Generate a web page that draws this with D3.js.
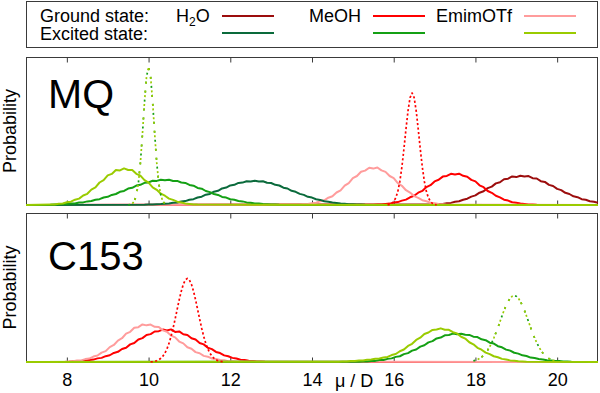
<!DOCTYPE html>
<html>
<head>
<meta charset="utf-8">
<script src="https://cdn.jsdelivr.net/npm/d3@7"></script>
<style>
    body { margin: 0; background: #fff; }
    svg { display: block; font-family: "Liberation Sans", Arial, Helvetica, sans-serif; }
</style>
</head>
<body>
<div id="chart"></div>
<script>
// ------------------------------------------------------------------
// data (dipole moment histograms, mu in Debye, probability in arb. units)
// each histogram: first bin centre, bin width, bin heights
// ------------------------------------------------------------------
const solvents = ['H2O', 'MeOH', 'EmimOTf'];
const xTicks = [8, 10, 12, 14, 16, 18, 20];
const xDomain = [7, 21];
const yMax = 148;

// MQ
const mqH2OGround = { start: 16.9, step: 0.1, p: [0.5, 0.5, 0.9, 1.1, 1.8, 2.1, 3.2, 3.7, 5.3, 6.3, 8.4, 9.6, 12.3, 13.8, 16.9, 18.4, 21.6, 22.7, 25.8, 26.3, 28.6, 27.9, 29.3, 28.4, 28.9, 26.8, 26.5, 23.8, 23.1, 20.1, 19.0, 16.1, 14.9, 12.2, 11.0, 8.7, 7.8, 5.8, 5.2, 3.7, 3.2, 2.3] };
const mqMeOHGround = { start: 15.5, step: 0.1, p: [0.3, 0.5, 0.6, 1.1, 1.4, 2.4, 2.9, 4.4, 5.4, 7.7, 9.2, 12.3, 14.1, 17.9, 19.8, 23.6, 25.2, 28.4, 29.1, 31.2, 30.5, 31.3, 29.2, 28.3, 25.1, 23.6, 19.7, 17.8, 14.0, 12.2, 9.2, 7.6, 5.3, 4.4, 2.8, 2.3, 1.4, 1.0, 0.6, 0.5, 0.2] };
const mqEmimGround = { start: 13.6, step: 0.1, p: [0.3, 0.3, 0.8, 1.0, 1.8, 2.2, 3.8, 4.7, 7.3, 8.8, 12.5, 14.7, 19.3, 21.9, 26.9, 29.0, 33.3, 34.4, 37.2, 36.4, 37.5, 34.6, 33.1, 29.0, 26.8, 21.8, 19.2, 14.8, 12.4, 8.9, 7.1, 4.8, 3.7, 2.2, 1.7, 1.0, 0.8, 0.3, 0.3] };
const mqH2OExcited = { start: 9.9, step: 0.1, p: [0.3, 0.5, 0.4, 0.8, 0.9, 1.3, 1.5, 2.2, 2.5, 3.4, 3.9, 5.2, 5.8, 7.5, 8.3, 10.3, 11.1, 13.3, 14.2, 16.6, 17.4, 19.6, 20.2, 22.1, 22.4, 23.8, 23.6, 24.3, 23.5, 23.8, 22.3, 22.0, 20.2, 19.5, 17.3, 16.5, 14.2, 13.2, 11.1, 10.1, 8.2, 7.4, 5.8, 5.1, 3.8, 3.3, 2.5, 2.1, 1.5, 1.3, 0.8, 0.7, 0.5, 0.4, 0.2] };
const mqMeOHExcited = { start: 7.6, step: 0.1, p: [0.3, 0.5, 0.5, 0.9, 1.0, 1.4, 1.6, 2.4, 2.6, 3.6, 4.0, 5.3, 5.8, 7.5, 8.2, 10.1, 11.0, 13.2, 14.1, 16.4, 17.2, 19.4, 20.2, 22.2, 22.6, 24.2, 24.1, 25.3, 24.7, 25.2, 24.0, 24.1, 22.5, 22.1, 20.1, 19.3, 17.1, 16.3, 14.0, 12.9, 11.0, 10.1, 8.1, 7.4, 5.8, 5.2, 4.0, 3.6, 2.6, 2.3, 1.6, 1.4, 0.9, 0.8, 0.5, 0.4, 0.2] };
const mqEmimExcited = { start: 7.6, step: 0.1, p: [0.5, 0.5, 1.2, 1.5, 2.7, 3.3, 5.3, 6.4, 9.5, 11.2, 15.4, 17.6, 22.5, 24.8, 29.6, 31.1, 34.9, 34.6, 36.6, 35.0, 34.9, 31.2, 29.4, 24.9, 22.3, 17.7, 15.2, 11.3, 9.3, 6.4, 5.1, 3.3, 2.5, 1.5, 1.1, 0.5, 0.4] };
const mqExcitedRef = { start: 9.5, step: 0.05, p: [0.1, 0.3, 1.2, 3.7, 9.6, 21.7, 42.2, 70.9, 102.7, 128.2, 138, 128.2, 102.7, 70.9, 42.2, 21.7, 9.6, 3.7, 1.2, 0.3, 0.1] };
const mqGroundRef = { start: 15.85, step: 0.05, p: [0.2, 0.6, 1.5, 3.4, 7.1, 13.4, 23.6, 38.0, 56.1, 75.9, 94.2, 107.3, 112, 107.3, 94.2, 75.9, 56.1, 38.0, 23.6, 13.4, 7.1, 3.4, 1.5, 0.6, 0.2] };

// C153
const cEmimGround = { start: 7.95, step: 0.1, p: [0.3, 0.6, 0.7, 1.4, 1.6, 2.9, 3.4, 5.4, 6.4, 9.3, 10.8, 14.8, 16.9, 21.3, 23.6, 28.2, 30.0, 34.0, 34.6, 37.3, 36.4, 37.2, 35.0, 34.8, 31.4, 30.1, 26.2, 24.5, 20.3, 18.5, 14.6, 13.1, 9.8, 8.7, 6.1, 5.3, 3.5, 3.0, 1.9, 1.7, 0.8, 0.8, 0.4] };
const cMeOHGround = { start: 8.05, step: 0.1, p: [0.3, 0.6, 0.6, 1.1, 1.3, 2.1, 2.4, 3.6, 4.1, 5.8, 6.7, 9.0, 10.1, 12.9, 14.2, 17.5, 18.9, 22.4, 23.7, 26.9, 27.7, 30.3, 30.6, 32.2, 31.3, 32.4, 29.9, 30.4, 27.6, 26.8, 23.6, 22.3, 18.8, 17.5, 14.1, 12.8, 10.0, 8.9, 6.6, 5.7, 4.1, 3.5, 2.3, 2.0, 1.3, 1.1, 0.6, 0.5, 0.3] };
const cEmimExcited = { start: 14.65, step: 0.1, p: [0.3, 0.5, 0.5, 0.9, 1.0, 1.4, 1.5, 2.2, 2.4, 3.2, 3.5, 4.5, 5.0, 6.9, 7.9, 10.7, 12.4, 16.0, 18.1, 21.9, 24.2, 27.8, 29.3, 31.9, 32.2, 33.4, 32.1, 32.0, 29.6, 28.4, 25.1, 23.3, 19.6, 17.6, 14.1, 12.2, 9.3, 7.8, 5.7, 4.7, 3.1, 2.5, 1.6, 1.3, 0.7, 0.6, 0.3] };
const cMeOHExcited = { start: 15.15, step: 0.1, p: [0.3, 0.5, 0.5, 1.0, 1.1, 1.9, 2.0, 3.1, 3.6, 5.1, 5.7, 7.8, 8.8, 11.3, 12.4, 15.3, 16.6, 19.5, 20.7, 23.4, 24.3, 26.5, 26.8, 28.2, 27.6, 28.1, 27.0, 26.9, 25.2, 24.8, 22.5, 21.7, 19.2, 18.3, 15.7, 14.6, 12.3, 11.3, 9.2, 8.3, 6.6, 5.9, 4.4, 3.9, 2.9, 2.5, 1.8, 1.6, 1.0, 0.9, 0.6, 0.5, 0.3] };
const cGroundRef = { start: 10.05, step: 0.05, p: [0.2, 0.4, 0.7, 1.3, 2.2, 3.7, 5.8, 8.9, 13.0, 18.5, 25.4, 33.5, 42.7, 52.3, 61.8, 70.3, 77.1, 81.5, 83, 81.5, 77.1, 70.3, 61.8, 52.3, 42.7, 33.5, 25.4, 18.5, 13.0, 8.9, 5.8, 3.7, 2.2, 1.3, 0.7, 0.4, 0.2] };
const cExcitedRef = { start: 17.95, step: 0.05, p: [1.1, 1.7, 2.4, 3.5, 4.8, 6.7, 8.9, 11.8, 15.2, 19.2, 23.8, 28.9, 34.3, 40.0, 45.7, 51.2, 56.0, 60.2, 63.4, 65.3, 66, 65.3, 63.4, 60.2, 56.0, 51.2, 45.7, 40.0, 34.3, 28.9, 23.8, 19.2, 15.2, 11.8, 8.9, 6.7, 4.8, 3.5, 2.4, 1.7, 1.1] };

// ------------------------------------------------------------------
const groundColor = { H2O: '#9c0d0d', MeOH: '#ff0000', EmimOTf: '#ff9c9c' };
const excitedColor = { H2O: '#0a6a3b', MeOH: '#14a014', EmimOTf: '#9acb00' };

// panel geometry, in px
const panels = [
    {
        label: 'MQ', top: 57, bottom: 205, labelY: 108, labelSize: 41,
        curves: [
            { d: mqH2OGround, color: groundColor.H2O },
            { d: mqMeOHGround, color: groundColor.MeOH },
            { d: mqEmimGround, color: groundColor.EmimOTf },
            { d: mqH2OExcited, color: excitedColor.H2O },
            { d: mqMeOHExcited, color: excitedColor.MeOH },
            { d: mqEmimExcited, color: excitedColor.EmimOTf },
            { d: mqGroundRef, color: groundColor.MeOH, dash: '2.2,2.3' },
            { d: mqExcitedRef, color: excitedColor.MeOH, dash: '2,7', offset: 0 },
            { d: mqExcitedRef, color: excitedColor.EmimOTf, dash: '2,2.5,2,7', offset: -4.5 }
        ]
    },
    {
        label: 'C153', top: 213, bottom: 362, labelY: 270, labelSize: 40,
        curves: [
            { d: cMeOHGround, color: groundColor.MeOH },
            { d: cEmimGround, color: groundColor.EmimOTf },
            { d: cMeOHExcited, color: excitedColor.MeOH },
            { d: cEmimExcited, color: excitedColor.EmimOTf },
            { d: cGroundRef, color: groundColor.MeOH, dash: '2.2,2.3' },
            { d: cExcitedRef, color: excitedColor.MeOH, dash: '2,7', offset: 0 },
            { d: cExcitedRef, color: excitedColor.EmimOTf, dash: '2,2.5,2,7', offset: -4.5 }
        ]
    }
];

const width = 600, height = 393;

const svg = d3.select('#chart').append('svg')
    .attr('width', width)
    .attr('height', height);

const xScale = d3.scaleLinear()
    .domain(xDomain)
    .range([26, 598]);

// turn a histogram into points; solid ones are padded with zero out to the axis ends
function toPoints(h, pad) {
    let pts = h.p.map((v, i) => [h.start + i * h.step, v]);
    if (!pad) return pts;
    if (pts[0][0] > xDomain[0]) pts.unshift([xDomain[0], 0]);
    if (pts[pts.length - 1][0] < xDomain[1]) pts.push([xDomain[1], 0]);
    return pts;
}

// ---------------- legend ----------------
const legend = svg.append('g').attr('class', 'legend');

legend.append('rect')
    .attr('x', 26.5)
    .attr('y', 1.5)
    .attr('width', 571)
    .attr('height', 46)
    .attr('fill', 'none')
    .attr('stroke', '#3a3a3a')
    .attr('stroke-width', 1);

legend.append('text')
    .attr('x', 40).attr('y', 22)
    .style('font-size', '18px')
    .text('Ground state:');

legend.append('text')
    .attr('x', 40).attr('y', 40)
    .style('font-size', '18px')
    .text('Excited state:');

const legendLabelX = [176, 309, 436];
const legendLineX = [222, 373, 524];

solvents.forEach((s, i) => {
    let t = legend.append('text')
        .attr('x', legendLabelX[i]).attr('y', 22)
        .style('font-size', '18px');
    if (s === 'H2O') {
        t.append('tspan').text('H');
        t.append('tspan').attr('dy', 4).style('font-size', '12px').text('2');
        t.append('tspan').attr('dy', -4).text('O');
    } else {
        t.text(s);
    }

    legend.append('line')
        .attr('x1', legendLineX[i]).attr('x2', legendLineX[i] + 52)
        .attr('y1', 16).attr('y2', 16)
        .attr('stroke', groundColor[s])
        .attr('stroke-width', 2);

    legend.append('line')
        .attr('x1', legendLineX[i]).attr('x2', legendLineX[i] + 52)
        .attr('y1', 33).attr('y2', 33)
        .attr('stroke', excitedColor[s])
        .attr('stroke-width', 2);
});

// ---------------- panels ----------------
panels.forEach((panel, pi) => {
    const yScale = d3.scaleLinear()
        .domain([0, yMax])
        .range([panel.bottom, panel.top]);

    const g = svg.append('g').attr('class', 'panel');

    g.append('clipPath')
        .attr('id', 'clip' + pi)
        .append('rect')
        .attr('x', xScale(xDomain[0]))
        .attr('y', panel.top)
        .attr('width', xScale(xDomain[1]) - xScale(xDomain[0]))
        .attr('height', panel.bottom - panel.top + 1);

    // frame
    g.append('rect')
        .attr('x', xScale(xDomain[0]) + 0.5)
        .attr('y', panel.top + 0.5)
        .attr('width', xScale(xDomain[1]) - xScale(xDomain[0]) - 1)
        .attr('height', panel.bottom - panel.top)
        .attr('fill', 'none')
        .attr('stroke', '#3a3a3a')
        .attr('stroke-width', 1);

    // ticks, inside, top and bottom
    const topAxis = d3.axisTop(xScale).tickValues(xTicks).tickSize(-5).tickFormat('');
    const bottomAxis = d3.axisBottom(xScale).tickValues(xTicks).tickSizeInner(-5).tickSizeOuter(0).tickPadding(11);
    if (pi < panels.length - 1) bottomAxis.tickFormat('');

    const topG = g.append('g')
        .attr('transform', `translate(0,${panel.top + 0.5})`)
        .call(topAxis);
    const bottomG = g.append('g')
        .attr('transform', `translate(0,${panel.bottom + 0.5})`)
        .call(bottomAxis);

    [topG, bottomG].forEach(a => {
        a.select('.domain').remove();
        a.selectAll('.tick line').attr('stroke', '#3a3a3a');
        a.selectAll('.tick text')
            .attr('fill', '#000')
            .style('font-size', '18px')
            .style('font-family', '"Liberation Sans", Arial, sans-serif');
    });

    // curves
    const line = d3.line()
        .x(d => xScale(d[0]))
        .y(d => yScale(d[1]));

    const curveG = g.append('g').attr('clip-path', `url(#clip${pi})`);
    panel.curves.forEach(c => {
        curveG.append('path')
            .datum(toPoints(c.d, !c.dash))
            .attr('d', line)
            .attr('fill', 'none')
            .attr('stroke', c.color)
            .attr('stroke-width', c.dash ? 1.7 : 2)
            .attr('stroke-linejoin', 'round')
            .attr('stroke-dasharray', c.dash || null)
            .attr('stroke-dashoffset', c.offset || 0);
    });

    // panel label
    g.append('text')
        .attr('x', 48)
        .attr('y', panel.labelY)
        .style('font-size', panel.labelSize + 'px')
        .text(panel.label);

    // y axis label
    g.append('text')
        .attr('transform', `translate(16,${(panel.top + panel.bottom) / 2}) rotate(-90)`)
        .style('text-anchor', 'middle')
        .style('font-size', '18px')
        .text('Probability');
});

// x axis label, sits between the 14 and 16 ticks
svg.append('text')
    .attr('x', 335)
    .attr('y', 387)
    .style('font-size', '18px')
    .text('\u03bc / D');
</script>
</body>
</html>
